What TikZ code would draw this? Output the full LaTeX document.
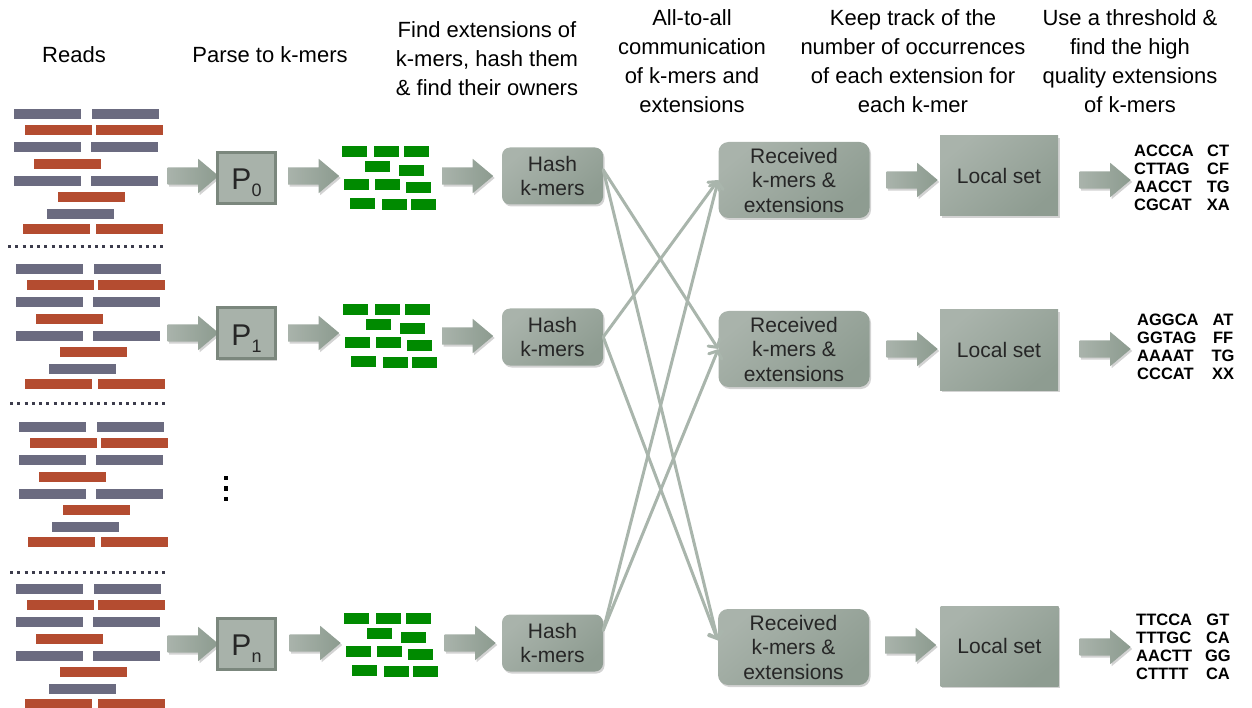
\documentclass[tikz,border=0pt]{standalone}
\usepackage{fontspec}
\setmainfont{Liberation Sans}
\usetikzlibrary{shapes.arrows,shadows,arrows.meta}
\definecolor{readgray}{HTML}{6B6B80}
\definecolor{readred}{HTML}{B44C30}
\definecolor{kgreen}{HTML}{008A00}
\definecolor{boxlight}{HTML}{A9B3AB}
\definecolor{boxdark}{HTML}{8E9C91}
\definecolor{pfill}{HTML}{A8B2AA}
\definecolor{pborder}{HTML}{7B877D}
\definecolor{linecol}{HTML}{A9B5AC}
\definecolor{arrlight}{HTML}{A9B3AB}
\definecolor{arrdark}{HTML}{8C9B8F}
\definecolor{dotcol}{HTML}{3C3C4C}
\definecolor{txt}{HTML}{262626}
\newcommand\readgroup[2]{%
  \foreach \xx/\yy/\cc in {16/0/readgray, 94/0/readgray, 27/16/readred, 98/16/readred,
    16/33/readgray, 93/33/readgray, 36/50/readred, 16/67/readgray, 93/67/readgray,
    60/83/readred, 49/100/readgray, 25/115/readred, 98/115/readred}
    \fill[\cc] (\xx+#1,\yy+#2) rectangle ++(67,10);
}
\newcommand\kmergroup[2]{%
  \foreach \xx/\yy in {342/146, 374/146, 404/146, 365/161, 399/165, 344/179,
    375/179, 406/182, 350/198, 382/199, 411/199}
    \fill[kgreen] (\xx+#1,\yy+#2) rectangle ++(25,11);
}
\begin{document}
\begin{tikzpicture}[x=1pt,y=-1pt,
  header/.style={font=\fontsize{22}{29}\selectfont, align=center, text=black},
  shad/.style={drop shadow={opacity=0.35, shadow xshift=1.5pt, shadow yshift=-2pt}},
  fat/.style={single arrow, single arrow head extend=8.5pt, single arrow tip angle=80,
    inner xsep=0pt, inner ysep=8.5pt, minimum height=51pt, minimum width=34pt,
    left color=arrlight, right color=arrdark, shad},
  pbox/.style={draw=pborder, line width=3pt, fill=pfill, minimum width=58pt,
    minimum height=51pt, inner sep=0pt, text height=24pt, text depth=0pt,
    font=\fontsize{30}{30}\selectfont, text=txt, shad},
  boxshade/.style={top color=boxlight, bottom color=boxdark, shading angle=40},
  hashbox/.style={rounded corners=8pt, boxshade, minimum width=101pt, minimum height=57pt,
    inner sep=0pt, align=center, font=\fontsize{21}{24.5}\selectfont, text=txt, shad},
  recvbox/.style={rounded corners=10pt, boxshade, minimum width=151pt, minimum height=76pt,
    inner sep=0pt, align=center, font=\fontsize{21}{24.5}\selectfont, text=txt, shad},
  localbox/.style={boxshade, minimum width=118pt, minimum height=80pt,
    inner sep=0pt, align=center, font=\fontsize{21}{24.5}\selectfont, text=txt, shad},
  res/.style={font=\bfseries\fontsize{16.5}{18}\selectfont, inner sep=0pt, anchor=west},
  conn/.style={draw=linecol, line width=3pt, line cap=round,
    -{Straight Barb[length=6pt,width=14pt,line cap=round]}},
  sep/.style={draw=dotcol, line width=3pt, dash pattern=on 3pt off 4.25pt}
]
\useasboundingbox (0,0) rectangle (1252,708);

% headers
\node[header] (hd1) at (74,55) {Reads};
\node[header] (hd2) at (270,55) {Parse to k-mers};
\node[header] (hd3) at (487,59) {Find extensions of\\k-mers, hash them\\\& find their owners};
\node[header] (hd4) at (692,61.5) {All-to-all\\communication\\of k-mers and\\extensions};
\node[header] (hd5) at (913,61.5) {Keep track of the\\number of occurrences\\of each extension for\\each k-mer};
\node[header] (hd6) at (1130,61.5) {Use a threshold \&\\find the high\\quality extensions\\of k-mers};

% reads
\readgroup{-2}{109}
\readgroup{0}{264}
\readgroup{3}{422}
\readgroup{0}{584}
\draw[sep] (8,247) -- (167,247);
\draw[sep] (10,403) -- (168,403);
\draw[sep] (10,572) -- (168,572);
\foreach \yy in {478,488.5,499} \fill[black] (224,\yy-2.2) rectangle ++(4.4,4.4);

% k-mer blocks
\kmergroup{0}{0}
\kmergroup{1}{158}
\kmergroup{2}{467}

% row 1
\node[fat] (a11) at (188,176) {};
\node[pbox] (p0) at (246.5,178) {P\raisebox{-7pt}{\fontsize{18}{18}\selectfont 0}};
\node[fat] (a12) at (308.5,176) {};
\node[fat] (a13) at (462.5,176) {};
\node[hashbox] (h1) at (552.5,176) {Hash\\k-mers};
\node[recvbox] (r1) at (794,180) {Received\\k-mers \&\\extensions};
\node[fat] (a14) at (907,180) {};
\node[localbox] (l1) at (999,176) {Local set};
\node[fat] (a15) at (1100,180) {};
\node[res] (t1) at (1134,180) {\begin{tabular}{@{}l@{\hspace{13pt}}c@{}}ACCCA & CT\\CTTAG & CF\\AACCT & TG\\CGCAT & XA\end{tabular}};

% row 2
\node[fat] (a21) at (188,333) {};
\node[pbox] (p1) at (246.5,333) {P\raisebox{-7pt}{\fontsize{18}{18}\selectfont 1}};
\node[fat] (a22) at (308.5,333) {};
\node[fat] (a23) at (462.5,336) {};
\node[hashbox] (h2) at (552.5,337) {Hash\\k-mers};
\node[recvbox] (r2) at (794,349) {Received\\k-mers \&\\extensions};
\node[fat] (a24) at (907,349) {};
\node[localbox] (l2) at (999,350) {Local set};
\node[fat] (a25) at (1100,349) {};
\node[res] (t2) at (1137,348.5) {\begin{tabular}{@{}l@{\hspace{13pt}}c@{}}AGGCA & AT\\GGTAG & FF\\AAAAT & TG\\CCCAT & XX\end{tabular}};

% row 3
\node[fat] (a31) at (188,644) {};
\node[pbox] (pn) at (246.5,643.5) {P\raisebox{-7pt}{\fontsize{18}{18}\selectfont n}};
\node[fat] (a32) at (310,643) {};
\node[fat] (a33) at (465,643) {};
\node[hashbox] (h3) at (552.5,643) {Hash\\k-mers};
\node[recvbox] (r3) at (793.5,647) {Received\\k-mers \&\\extensions};
\node[fat] (a34) at (905.5,645) {};
\node[localbox] (l3) at (999.5,646) {Local set};
\node[fat] (a35) at (1100,647) {};
\node[res] (t3) at (1136,649) {\begin{tabular}{@{}l@{\hspace{13pt}}c@{}}TTCCA & GT\\TTTGC & CA\\AACTT & GG\\CTTTT & CA\end{tabular}};

% all-to-all connectors
\draw[conn] (h1.7) -- (r2.west);
\draw[conn] (h1.7) -- (r3.175);
\draw[conn] (h2.east) -- (r1.west);
\draw[conn] (h2.east) -- (r3.175);
\draw[conn] (h3.14) -- (r1.west);
\draw[conn] (h3.14) -- (r2.west);
\end{tikzpicture}
\end{document}
